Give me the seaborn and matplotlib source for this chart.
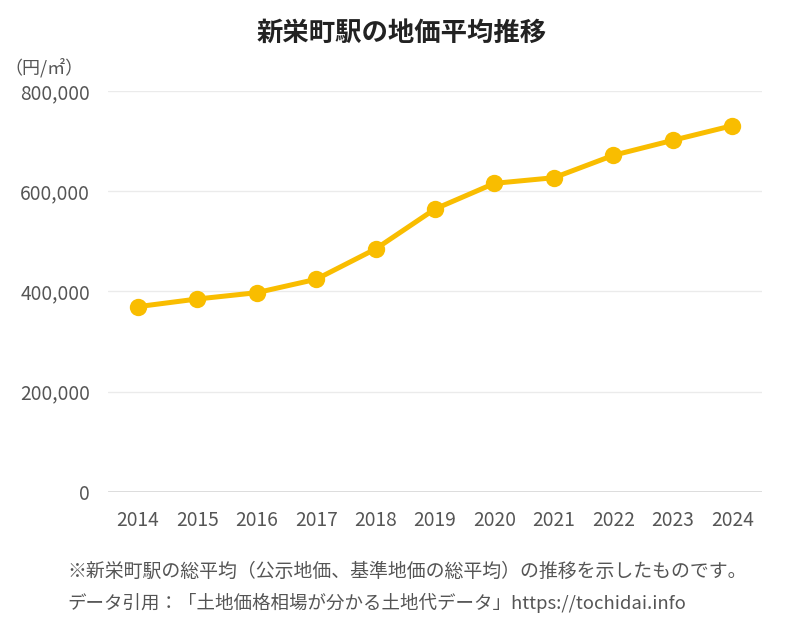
import seaborn as sns
import matplotlib.pyplot as plt
import pandas as pd
from matplotlib.ticker import FuncFormatter

# chart data
years = [2014, 2015, 2016, 2017, 2018, 2019, 2020, 2021, 2022, 2023, 2024]
prices = [369700, 385000, 397600, 424300, 484800, 564600, 615800, 627000, 671700, 701600, 730800]
y_ticks = [0, 200000, 400000, 600000, 800000]

title = "新栄町駅の地価平均推移"
unit_label = "（円/㎡）"
note_1 = "※新栄町駅の総平均（公示地価、基準地価の総平均）の推移を示したものです。"
note_2 = "データ引用：「土地価格相場が分かる土地代データ」https://tochidai.info"

df = pd.DataFrame({"year": years, "price": prices})

sns.set_style("white")
plt.rcParams['font.family'] = ['Noto Sans CJK JP', 'DejaVu Sans']

fig = plt.figure(figsize=(8.03, 6.31), dpi=100)
ax = fig.add_axes([0.1345, 0.2203, 0.8145, 0.6355])

sns.lineplot(data=df, x="year", y="price", ax=ax, color="#F9BD00",
             linewidth=3.6, marker="o", markersize=12.5, markeredgewidth=0)

ax.set_xlim(2013.5, 2024.5)
ax.set_ylim(0, 800000)
ax.set_xticks(years)
ax.set_yticks(y_ticks)
ax.yaxis.set_major_formatter(FuncFormatter(lambda v, p: f"{int(v):,}"))
ax.tick_params(axis="both", length=0, labelsize=13.8, colors="#555555")
ax.tick_params(axis="x", pad=13)
ax.tick_params(axis="y", pad=13)
ax.set_xlabel("")
ax.set_ylabel("")

# grid lines
for t in y_ticks[1:]:
    ax.axhline(t, color="#EBEBEB", linewidth=1, zorder=0)
ax.axhline(0, color="#D9D9D9", linewidth=2, zorder=0)
for s in ax.spines.values():
    s.set_visible(False)

fig.text(0.5, 0.948, title, ha="center", va="center", fontsize=19,
         fontweight="bold", color="#222222")
fig.text(0.006, 0.893, unit_label, ha="left", va="center", fontsize=13, color="#555555")
fig.text(0.084, 0.094, note_1, ha="left", va="center", fontsize=13.6, color="#555555")
fig.text(0.084, 0.045, note_2, ha="left", va="center", fontsize=13.3, color="#555555")

plt.savefig("out.png", dpi=100)
